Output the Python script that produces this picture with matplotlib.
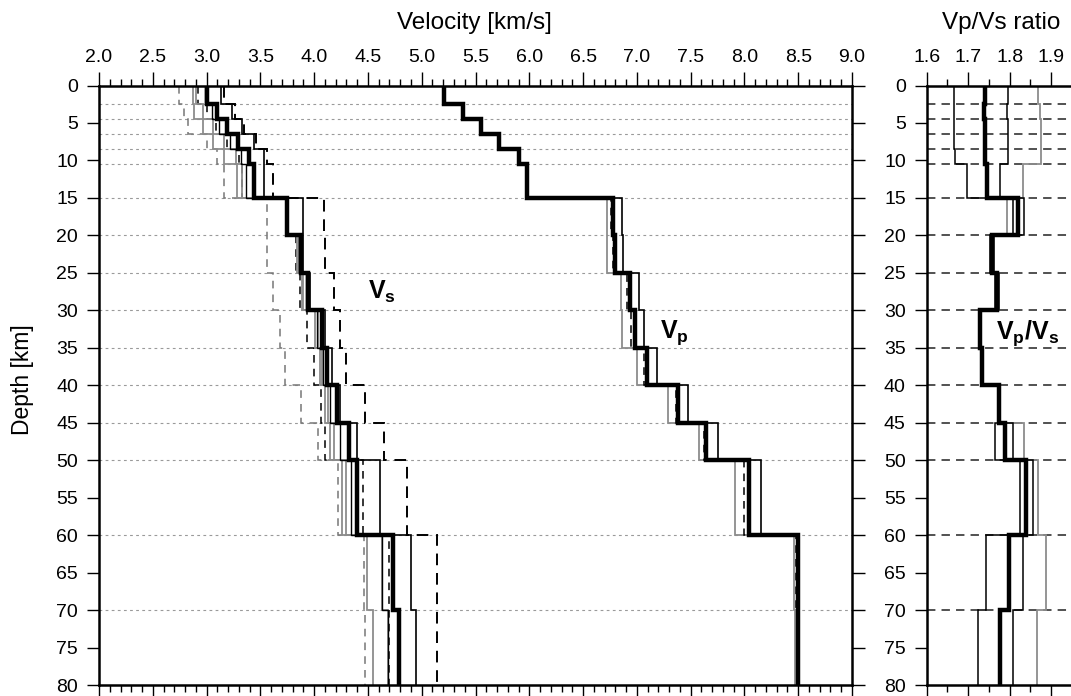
import numpy as np
import matplotlib
matplotlib.use("Agg")
import matplotlib.pyplot as plt
from matplotlib.ticker import MultipleLocator

plt.rcParams['font.family'] = ['Liberation Sans', 'DejaVu Sans']
plt.rcParams['mathtext.fontset'] = 'custom'
plt.rcParams['mathtext.rm'] = 'Liberation Sans'
plt.rcParams['mathtext.bf'] = 'Liberation Sans:bold'

# ---------------- data ----------------
layer_edges = [0, 2.5, 4.5, 6.5, 8.5, 10.5, 15, 20, 25, 30, 35, 40, 45, 50, 60, 70, 80]
grid_depths = [2.5, 4.5, 6.5, 8.5, 10.5, 15, 20, 25, 30, 35, 40, 45, 50, 60, 70]

vs_best = [3.00, 3.10, 3.19, 3.29, 3.39, 3.44, 3.75, 3.88, 3.94, 4.07, 4.12, 4.21, 4.32, 4.40, 4.73, 4.79]
vs_hi = [3.13, 3.24, 3.33, 3.44, 3.53, 3.53, 3.90, 3.90, 3.96, 4.10, 4.17, 4.24, 4.40, 4.61, 4.90, 4.95]
vs_mid = [2.99, 3.05, 3.12, 3.22, 3.32, 3.37, 3.75, 3.86, 3.92, 4.03, 4.08, 4.15, 4.24, 4.34, 4.63, 4.69]
vs_gray1 = [2.87, 2.88, 2.97, 3.06, 3.16, 3.28, 3.74, 3.84, 3.89, 4.01, 4.05, 4.10, 4.15, 4.26, 4.49, 4.55]
vs_gray2 = [2.90, 2.97, 3.06, 3.16, 3.27, 3.33, 3.76, 3.86, 3.90, 4.04, 4.07, 4.13, 4.18, 4.30, 4.63, 4.69]
vs_dash_lo = [2.74, 2.79, 2.83, 3.00, 3.10, 3.16, 3.56, 3.56, 3.62, 3.68, 3.73, 3.88, 4.04, 4.22, 4.46, 4.47]
vs_dash_mid = [2.92, 3.00, 3.09, 3.19, 3.30, 3.33, 3.76, 3.83, 3.87, 3.93, 4.00, 4.06, 4.10, 4.45, 4.70, 4.70]
vs_dash_hi = [3.16, 3.26, 3.35, 3.46, 3.56, 3.62, 4.09, 4.10, 4.18, 4.24, 4.30, 4.47, 4.65, 4.86, 5.14, 5.14]

vp_best = [5.21, 5.38, 5.55, 5.72, 5.90, 5.98, 6.78, 6.80, 6.94, 6.98, 7.09, 7.38, 7.64, 8.04, 8.50, 8.50]
vp_hi = [5.21, 5.38, 5.55, 5.72, 5.90, 5.98, 6.86, 6.87, 7.02, 7.07, 7.19, 7.48, 7.75, 8.15, 8.51, 8.51]
vp_lo = [5.21, 5.38, 5.55, 5.72, 5.90, 5.98, 6.72, 6.72, 6.85, 6.86, 7.00, 7.29, 7.58, 7.91, 8.46, 8.47]
vp_mid = [5.21, 5.38, 5.55, 5.72, 5.90, 5.98, 6.76, 6.78, 6.91, 6.95, 7.07, 7.36, 7.62, 8.00, 8.48, 8.49]

r_best = [1.740, 1.737, 1.740, 1.740, 1.740, 1.745, 1.820, 1.757, 1.770, 1.728, 1.733, 1.775, 1.789, 1.839, 1.799, 1.777]
r_lo = [1.666, 1.666, 1.666, 1.666, 1.668, 1.696, 1.809, 1.752, 1.765, 1.726, 1.731, 1.773, 1.765, 1.826, 1.742, 1.723]
r_hi = [1.795, 1.793, 1.795, 1.797, 1.795, 1.777, 1.835, 1.762, 1.774, 1.730, 1.735, 1.777, 1.809, 1.855, 1.833, 1.809]
r_gray = [1.869, 1.873, 1.875, 1.875, 1.875, 1.831, 1.793, 1.755, 1.768, 1.728, 1.733, 1.776, 1.834, 1.867, 1.888, 1.865]

vel_ticks = [2.0, 2.5, 3.0, 3.5, 4.0, 4.5, 5.0, 5.5, 6.0, 6.5, 7.0, 7.5, 8.0, 8.5, 9.0]
ratio_ticks = [1.6, 1.7, 1.8, 1.9]
depth_ticks = list(range(0, 85, 5))

# ---------------- figure ----------------
W, H = 1071, 696
fig = plt.figure(figsize=(W / 100, H / 100), dpi=100)

top_px, bot_px = 85.5, 685
axL = fig.add_axes([99 / W, 1 - bot_px / H, (852 - 99) / W, (bot_px - top_px) / H])
axR = fig.add_axes([926.7 / W, 1 - bot_px / H, 166 / W, (bot_px - top_px) / H])

gray = '#8c8c8c'


def steps(ax, vals, **kw):
    ax.stairs(vals, layer_edges, orientation='horizontal', baseline=None, **kw)


# grid lines
for d in grid_depths:
    axL.axhline(d, color='#9a9a9a', lw=0.8, ls=(0, (2.5, 3)), zorder=0)
    axR.axhline(d, color='#222222', lw=1.1, ls=(0, (5.5, 4)), zorder=0)

# Vs
steps(axL, vs_dash_lo, color='#777777', lw=1.1, ls=(0, (5, 4)))
steps(axL, vs_dash_hi, color='black', lw=1.4, ls=(0, (6, 4)))
steps(axL, vs_dash_mid, color='black', lw=1.1, ls=(0, (5, 4)))
steps(axL, vs_gray1, color=gray, lw=1.3)
steps(axL, vs_gray2, color=gray, lw=1.3)
steps(axL, vs_mid, color='black', lw=1.0)
steps(axL, vs_hi, color='black', lw=1.2)
steps(axL, vs_best, color='black', lw=3.2)

# Vp
steps(axL, vp_lo, color=gray, lw=1.3)
steps(axL, vp_hi, color='black', lw=1.2)
steps(axL, vp_mid, color='black', lw=1.1, ls=(0, (5, 4)))
steps(axL, vp_best, color='black', lw=3.2)

# Vp/Vs
steps(axR, r_gray, color=gray, lw=1.3)
steps(axR, r_lo, color='black', lw=1.1)
steps(axR, r_hi, color='black', lw=1.1)
steps(axR, r_best, color='black', lw=3.2)

# labels inside
axL.text(4.63, 27.6, r'$\mathbf{V_s}$', fontsize=18, ha='center', va='center')
axL.text(7.35, 33.0, r'$\mathbf{V_p}$', fontsize=18, ha='center', va='center')
axR.text(1.844, 33.0, r'$\mathbf{V_p/V_s}$', fontsize=18, ha='center', va='center')

# axes formatting
for ax in (axL, axR):
    ax.set_ylim(80, 0)
    ax.set_yticks(depth_ticks)
    for s in ax.spines.values():
        s.set_linewidth(1.8)
    ax.tick_params(axis='both', which='both', direction='out', labelsize=14, width=1.0)
    ax.tick_params(axis='x', which='major', length=10, top=True, bottom=True,
                   labeltop=True, labelbottom=False, pad=4)
    ax.tick_params(axis='x', which='minor', length=5, top=True, bottom=True)
    ax.tick_params(axis='y', which='major', length=9, pad=6)

axL.set_xlim(2.0, 9.0)
axL.set_xticks(vel_ticks)
axL.set_xticklabels([f'{t:.1f}' for t in vel_ticks])
axL.xaxis.set_minor_locator(MultipleLocator(0.1))
axL.tick_params(axis='y', which='major', left=True, right=True, labelleft=True)

axR.set_xlim(1.6, 2.0)
axR.set_xticks(ratio_ticks)
axR.set_xticklabels([f'{t:.1f}' for t in ratio_ticks])
axR.xaxis.set_minor_locator(MultipleLocator(0.05))
axR.tick_params(axis='y', which='major', left=True, right=False, labelleft=True)

# axis titles
fig.text(474 / W, 1 - 29.5 / H, 'Velocity [km/s]', fontsize=17.5, ha='center', va='baseline')
fig.text(1001 / W, 1 - 28.5 / H, 'Vp/Vs ratio', fontsize=17.5, ha='center', va='baseline')
fig.text(22 / W, 1 - 380 / H, 'Depth [km]', fontsize=16.5, ha='center', va='center', rotation=90)

fig.savefig('out.png', dpi=100)
